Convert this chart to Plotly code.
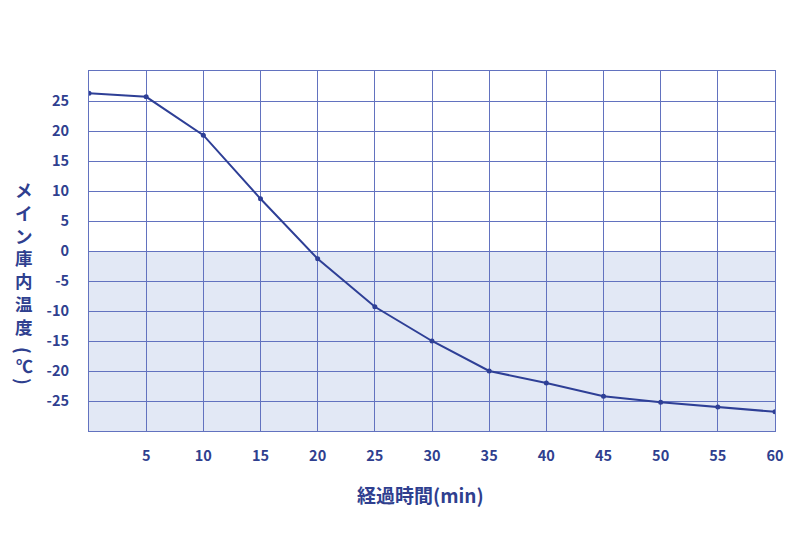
import plotly.graph_objects as go

minutes = [0, 5, 10, 15, 20, 25, 30, 35, 40, 45, 50, 55, 60]
temps = [26.3, 25.7, 19.3, 8.7, -1.3, -9.3, -15.0, -20.0, -22.0, -24.2, -25.2, -26.0, -26.8]
x_ticks = [5, 10, 15, 20, 25, 30, 35, 40, 45, 50, 55, 60]
y_ticks = [-25, -20, -15, -10, -5, 0, 5, 10, 15, 20, 25]
x_title = "経過時間(min)"
y_title_main = ["メ", "イ", "ン", "庫", "内", "温", "度"]
y_title_unit = ["(", "℃", ")"]

line_color = "#2e3f96"
grid_color = "#6272bf"
text_color = "#2f3f8f"
font_family = "Noto Sans CJK JP, Noto Sans, sans-serif"

L, R, T, B = 89, 25, 71, 102
W, H = 800, 533
pw, ph = W - L - R, H - T - B


def px(xp):
    return (xp - L) / pw


def py(yp):
    return (H - B - yp) / ph


fig = go.Figure()
fig.add_shape(type="rect", xref="x", yref="y", x0=0, x1=60, y0=-30, y1=0,
              fillcolor="#e2e8f5", line_width=0, layer="below")
fig.add_trace(go.Scatter(x=minutes, y=temps, mode="lines+markers",
                         line=dict(color=line_color, width=2),
                         marker=dict(color=line_color, size=5),
                         hoverinfo="skip", showlegend=False))

fig.update_xaxes(range=[0, 60], tickvals=x_ticks, ticktext=[str(v) for v in x_ticks],
                 showgrid=True, gridcolor=grid_color, gridwidth=1,
                 showline=True, linecolor=grid_color, linewidth=1, mirror=True,
                 zeroline=False, ticks="", ticklabelstandoff=12,
                 tickfont=dict(family=font_family, size=14.5, color=text_color, weight="bold"))
fig.update_yaxes(range=[-30, 30], tickvals=y_ticks, ticktext=[str(v) for v in y_ticks],
                 showgrid=True, gridcolor=grid_color, gridwidth=1,
                 showline=True, linecolor=grid_color, linewidth=1, mirror=True,
                 zeroline=False, ticks="", ticklabelstandoff=16,
                 tickfont=dict(family=font_family, size=14.5, color=text_color, weight="bold"))

title_font = dict(family=font_family, size=17.5, color=text_color, weight="bold")
fig.add_annotation(text="<br>".join(y_title_main), xref="paper", yref="paper",
                   x=px(24), y=py(258), xanchor="center", yanchor="middle",
                   showarrow=False, font=title_font)
fig.add_annotation(text=y_title_unit[0], textangle=90, xref="paper", yref="paper",
                   x=px(24), y=py(350), xanchor="center", yanchor="middle",
                   showarrow=False, font=dict(title_font, size=18))
fig.add_annotation(text=y_title_unit[1], xref="paper", yref="paper",
                   x=px(24), y=py(365), xanchor="center", yanchor="middle",
                   showarrow=False, font=dict(title_font, size=17))
fig.add_annotation(text=y_title_unit[2], textangle=90, xref="paper", yref="paper",
                   x=px(24), y=py(381), xanchor="center", yanchor="middle",
                   showarrow=False, font=dict(title_font, size=18))

fig.add_annotation(text=x_title, xref="paper", yref="paper",
                   x=px(420), y=py(494), xanchor="center", yanchor="middle",
                   showarrow=False,
                   font=dict(family=font_family, size=19, color=text_color, weight="bold"))

fig.update_layout(width=W, height=H, plot_bgcolor="white", paper_bgcolor="white",
                  margin=dict(l=L, r=R, t=T, b=B))
fig.write_html("out.html", config={"displayModeBar": False},
               post_script="document.body.style.margin='0';")
